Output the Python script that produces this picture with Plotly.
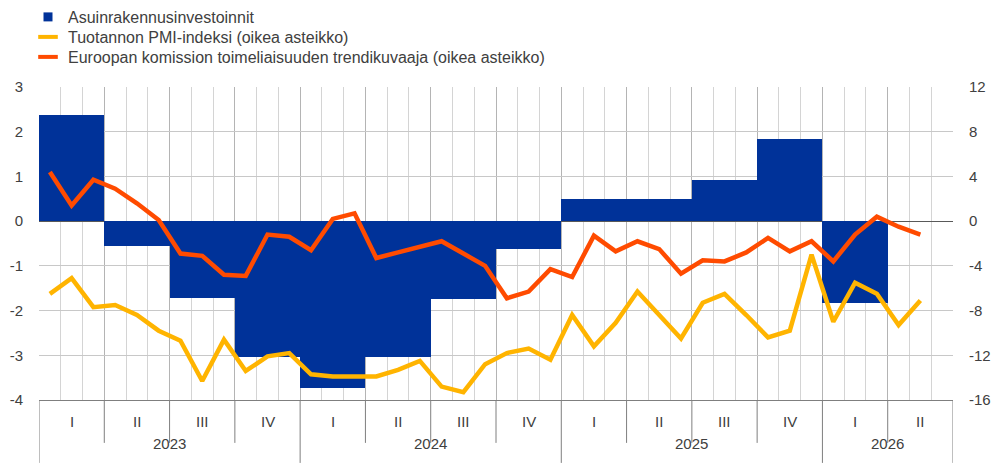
import plotly.graph_objects as go

# ---- data ----
years = ["2023", "2024", "2025", "2026"]
quarter_labels = ["I", "II", "III", "IV"] * 3 + ["I", "II"]

# quarterly residential investment (left axis), 2023Q1..2026Q1
housing_inv = [2.38, -0.55, -1.72, -3.04, -3.73, -3.04, -1.75, -0.63,
               0.50, 0.50, 0.91, 1.83, -1.84]

# monthly series (right axis), Jan 2023 .. May 2026
pmi = [-6.5, -5.1, -7.7, -7.5, -8.4, -9.8, -10.7, -14.3, -10.6, -13.4,
       -12.1, -11.8, -13.7, -13.9, -13.9, -13.9, -13.3, -12.5, -14.8, -15.3,
       -12.8, -11.8, -11.4, -12.4, -8.4, -11.2, -9.1, -6.3, -8.4, -10.5,
       -7.3, -6.5, -8.4, -10.4, -9.8, -3.0, -9.0, -5.5, -6.5, -9.3, -7.1]
ec_trend = [4.4, 1.4, 3.7, 2.9, 1.6, 0.1, -2.9, -3.1, -4.8, -4.9,
            -1.2, -1.4, -2.6, 0.2, 0.7, -3.3, -2.8, -2.3, -1.8, -2.9,
            -4.0, -6.9, -6.3, -4.3, -5.0, -1.3, -2.7, -1.8, -2.5, -4.7,
            -3.5, -3.6, -2.8, -1.5, -2.7, -1.8, -3.6, -1.2, 0.4, -0.5, -1.2]

left_ticks = [-4, -3, -2, -1, 0, 1, 2, 3]
right_ticks = [-16, -12, -8, -4, 0, 4, 8, 12]

names = ["Asuinrakennusinvestoinnit",
         "Tuotannon PMI-indeksi (oikea asteikko)",
         "Euroopan komission toimeliaisuuden trendikuvaaja (oikea asteikko)"]

BLUE = "#003299"
YELLOW = "#FFB400"
ORANGE = "#FF4B00"
FONT = "Arial, Liberation Sans, sans-serif"
TXT = "#404040"

W, H = 995, 455   # page body adds an 8px offset in the 1003x463 window

n_months = 3 * len(quarter_labels)
bar_x = [3 * i + 1.5 for i in range(len(housing_inv))]
pmi_x = [i + 0.5 for i in range(len(pmi))]
ec_x = [i + 0.5 for i in range(len(ec_trend))]

fig = go.Figure()
fig.add_trace(go.Bar(x=bar_x, y=housing_inv, width=3, marker=dict(color=BLUE, line=dict(width=0)),
                     showlegend=False, yaxis="y", hoverinfo="skip"))
fig.add_trace(go.Scatter(x=pmi_x, y=pmi, mode="lines", line=dict(color=YELLOW, width=4.5),
                         yaxis="y2", showlegend=False))
fig.add_trace(go.Scatter(x=ec_x, y=ec_trend, mode="lines", line=dict(color=ORANGE, width=4.5),
                         yaxis="y2", showlegend=False))

# legend entries (one legend per row so the row spacing can match)
fig.add_trace(go.Scatter(x=[None], y=[None], mode="markers", name=names[0], legend="legend",
                         marker=dict(symbol="square", size=9, color=BLUE, line=dict(width=0))))
fig.add_trace(go.Scatter(x=[None], y=[None], mode="markers", name=names[1], legend="legend2",
                         marker=dict(symbol="line-ew", size=14, line=dict(color=YELLOW, width=4))))
fig.add_trace(go.Scatter(x=[None], y=[None], mode="markers", name=names[2], legend="legend3",
                         marker=dict(symbol="line-ew", size=14, line=dict(color=ORANGE, width=4))))

# category axis dividers and labels
shapes = []
annotations = []
for q in range(len(quarter_labels) + 1):
    is_year = (q % 4 == 0) or q == len(quarter_labels)
    shapes.append(dict(type="line", xref="x", yref="paper", x0=3 * q, x1=3 * q,
                       y0=0, y1=-0.201 if is_year else -0.137,
                       line=dict(color="#7f7f7f", width=1)))
for q, lab in enumerate(quarter_labels):
    annotations.append(dict(x=3 * q + 1.5, y=-0.101, xref="x", yref="paper", text=lab,
                            showarrow=False, font=dict(size=15, color=TXT, family=FONT)))
for i, yr in enumerate(years):
    start = 12 * i
    end = min(12 * (i + 1), n_months)
    annotations.append(dict(x=(start + end) / 2, y=-0.172, xref="x", yref="paper", text=yr,
                            showarrow=False, font=dict(size=15, color=TXT, family=FONT)))

def leg(ypix):
    return dict(x=20 / W, y=1 - ypix / H, xref="container", yref="container",
                xanchor="left", yanchor="middle", itemwidth=30,
                font=dict(size=16, color=TXT, family=FONT),
                bgcolor="rgba(0,0,0,0)")

fig.update_layout(
    width=W, height=H,
    margin=dict(l=31, r=50, t=79, b=63, autoexpand=False),
    plot_bgcolor="white", paper_bgcolor="white",
    font=dict(family=FONT, size=15, color=TXT),
    bargap=0,
    shapes=shapes, annotations=annotations,
    legend=leg(9), legend2=leg(29), legend3=leg(49),
    xaxis=dict(range=[0, n_months], showticklabels=False, dtick=3, tick0=0,
               showgrid=True, gridcolor="#b4b4b4", gridwidth=1,
               minor=dict(dtick=1, tick0=0, showgrid=True, gridcolor="#d4d4d4", gridwidth=1),
               showline=True, linecolor="#7f7f7f", linewidth=1, zeroline=False, ticks=""),
    yaxis=dict(range=[-4, 3], tickmode="array", tickvals=left_ticks,
               ticktext=[str(v) for v in left_ticks],
               showgrid=True, gridcolor="#c8c8c8",
               zeroline=True, zerolinecolor="#595959", zerolinewidth=1,
               ticks="outside", ticklen=12, tickcolor="rgba(0,0,0,0)",
               tickfont=dict(size=15, color=TXT)),
    yaxis2=dict(range=[-16, 12], tickmode="array", tickvals=right_ticks,
                ticktext=[str(v) for v in right_ticks],
                overlaying="y", side="right",
                showgrid=False, zeroline=False,
                ticks="outside", ticklen=12, tickcolor="rgba(0,0,0,0)",
                tickfont=dict(size=15, color=TXT)),
)

fig.write_html("out.html")
